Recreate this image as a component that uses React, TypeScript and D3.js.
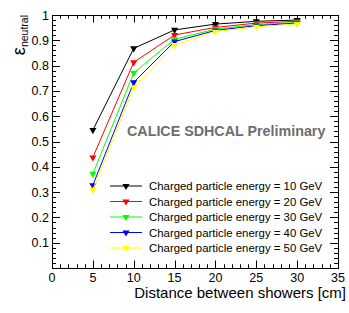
import { useRef, useEffect } from 'react';
import * as d3 from 'd3';

const distances = [5, 10, 15, 20, 25, 30];
const eff10 = [0.545, 0.868, 0.941, 0.964, 0.975, 0.98];
const eff20 = [0.437, 0.813, 0.921, 0.951, 0.968, 0.975];
const eff30 = [0.372, 0.771, 0.904, 0.944, 0.962, 0.97];
const eff40 = [0.327, 0.734, 0.895, 0.939, 0.958, 0.968];
const eff50 = [0.309, 0.714, 0.881, 0.934, 0.953, 0.965];

const seriesLabels = [
  'Charged particle energy = 10 GeV',
  'Charged particle energy = 20 GeV',
  'Charged particle energy = 30 GeV',
  'Charged particle energy = 40 GeV',
  'Charged particle energy = 50 GeV',
];
const seriesColors = ['#000000', '#ff0000', '#00ff00', '#0000ff', '#ffff00'];
const seriesValues = [eff10, eff20, eff30, eff40, eff50];

const xTicks = [0, 5, 10, 15, 20, 25, 30, 35];
const yTicks = [0.1, 0.2, 0.3, 0.4, 0.5, 0.6, 0.7, 0.8, 0.9, 1];

const W = 349;
const H = 313;
const FONT = "'Liberation Sans', Arial, Helvetica, sans-serif";

export default function App() {
  const svgRef = useRef<SVGSVGElement>(null);

  useEffect(() => {
    const svg = d3.select(svgRef.current);
    svg.selectAll('*').remove();

    const left = 52;
    const right = 338;
    const top = 15;
    const bottom = 268;

    const x = d3.scaleLinear().domain([0, 35]).range([left, right]);
    const y = d3.scaleLinear().domain([0, 1]).range([bottom, top]);

    svg.append('rect').attr('width', W).attr('height', H).attr('fill', '#fff');

    const frame = svg.append('g').attr('stroke', '#000').attr('stroke-width', 1).attr('fill', 'none');

    // ROOT style ticks, inside the frame on all four sides
    const xMinor = d3.range(0, 35.001, 1);
    xMinor.forEach((v) => {
      const major = v % 5 === 0;
      const len = major ? 7.5 : 3.75;
      const px = Math.round(x(v)) + 0.5;
      frame.append('line').attr('x1', px).attr('x2', px).attr('y1', bottom).attr('y2', bottom - len);
      frame.append('line').attr('x1', px).attr('x2', px).attr('y1', top).attr('y2', top + len);
    });
    const yMinor = d3.range(0, 50.5, 1).map((i) => i / 50);
    yMinor.forEach((v, i) => {
      const major = i % 5 === 0;
      const len = major ? 8 : 4;
      const py = Math.round(y(v)) + 0.5;
      frame.append('line').attr('x1', left).attr('x2', left + len).attr('y1', py).attr('y2', py);
      frame.append('line').attr('x1', right).attr('x2', right - len).attr('y1', py).attr('y2', py);
    });

    frame
      .append('rect')
      .attr('x', left + 0.5)
      .attr('y', top + 0.5)
      .attr('width', right - left)
      .attr('height', bottom - top);

    // tick labels
    svg
      .append('g')
      .selectAll('text')
      .data(xTicks)
      .join('text')
      .attr('x', (d) => x(d))
      .attr('y', 282)
      .attr('text-anchor', 'middle')
      .attr('font-family', FONT)
      .attr('font-size', '12.5px')
      .attr('fill', '#000')
      .text((d) => String(d));

    svg
      .append('g')
      .selectAll('text')
      .data(yTicks)
      .join('text')
      .attr('x', 49)
      .attr('y', (d) => y(d) + 4.5)
      .attr('text-anchor', 'end')
      .attr('font-family', FONT)
      .attr('font-size', '12.5px')
      .attr('fill', '#000')
      .text((d) => (d === 1 ? '1' : d.toFixed(1)));

    // axis titles
    svg
      .append('text')
      .attr('x', 346)
      .attr('y', 298)
      .attr('text-anchor', 'end')
      .attr('font-family', FONT)
      .attr('font-size', '15px')
      .attr('fill', '#000')
      .text('Distance between showers [cm]');

    const yTitle = svg
      .append('text')
      .attr('transform', 'translate(25,15) rotate(-90)')
      .attr('text-anchor', 'end')
      .attr('font-family', FONT)
      .attr('fill', '#000');
    yTitle.append('tspan').attr('font-size', '18px').text('ε');
    yTitle.append('tspan').attr('font-size', '10.5px').attr('dy', 3).text('neutral');

    // watermark
    svg
      .append('text')
      .attr('x', 127)
      .attr('y', 136)
      .attr('font-family', FONT)
      .attr('font-size', '14.3px')
      .attr('font-weight', 'bold')
      .attr('fill', '#6e6e6e')
      .text('CALICE SDHCAL Preliminary');

    // series
    const tri = d3.symbol().type(d3.symbolTriangle).size(22);
    const line = d3
      .line<number>()
      .x((_d, i) => x(distances[i]))
      .y((d) => y(d));

    seriesValues.forEach((vals, si) => {
      const g = svg.append('g');
      g.append('path')
        .attr('d', line(vals))
        .attr('fill', 'none')
        .attr('stroke', seriesColors[si])
        .attr('stroke-width', 1);
      g.selectAll('path.m')
        .data(vals)
        .join('path')
        .attr('class', 'm')
        .attr('d', tri)
        .attr('transform', (d, i) => `translate(${x(distances[i])},${y(d)}) rotate(180)`)
        .attr('fill', seriesColors[si]);
    });

    // legend
    const legendY = [186, 201.5, 217, 232.5, 248];
    seriesLabels.forEach((label, si) => {
      const ly = legendY[si];
      svg
        .append('line')
        .attr('x1', 110)
        .attr('x2', 142)
        .attr('y1', ly)
        .attr('y2', ly)
        .attr('stroke', seriesColors[si])
        .attr('stroke-width', 1);
      svg
        .append('path')
        .attr('d', tri)
        .attr('transform', `translate(126,${ly}) rotate(180)`)
        .attr('fill', seriesColors[si]);
      svg
        .append('text')
        .attr('x', 149)
        .attr('y', ly + 4)
        .attr('font-family', FONT)
        .attr('font-size', '11.4px')
        .attr('fill', '#000')
        .text(label);
    });
  }, []);

  return (
    <svg
      ref={svgRef}
      width={W}
      height={H}
      viewBox={`0 0 ${W} ${H}`}
      style={{ position: 'absolute', left: 0, top: 0 }}
    />
  );
}
